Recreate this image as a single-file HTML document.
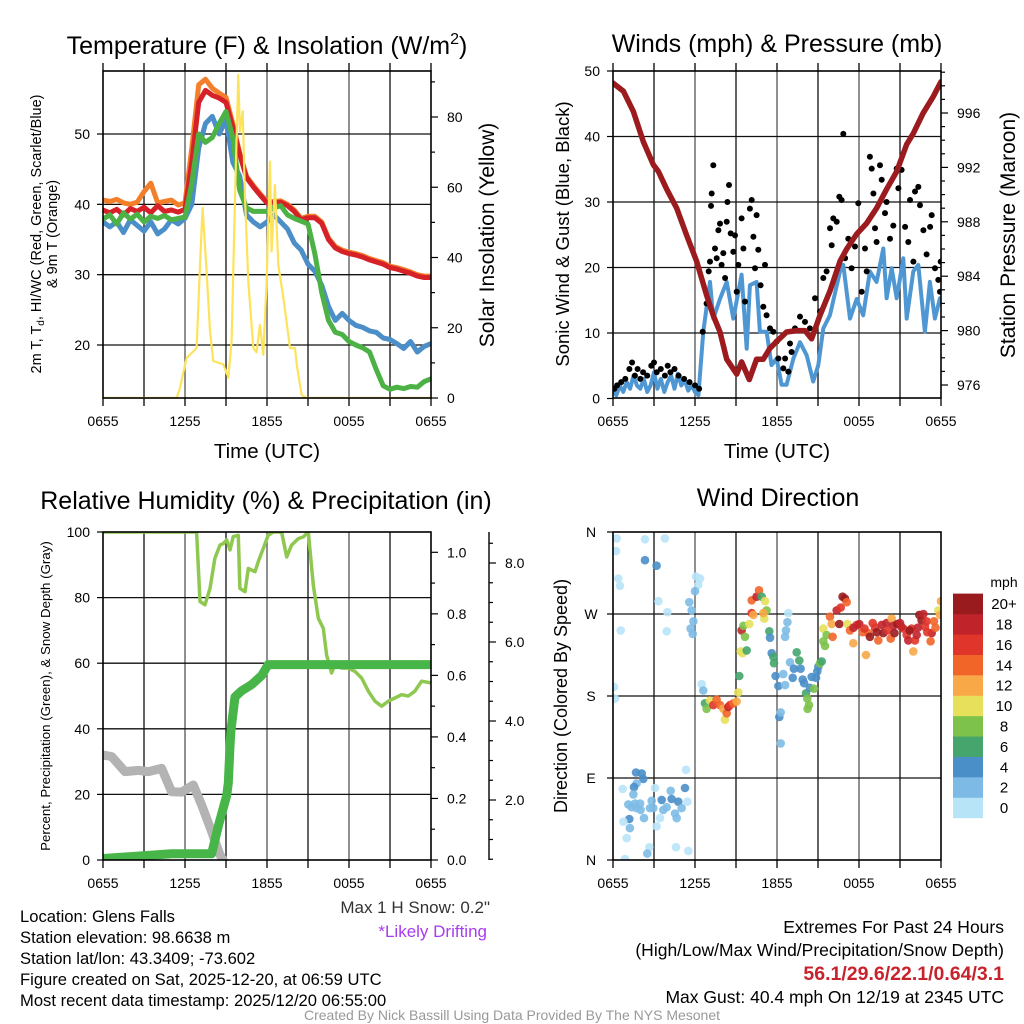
<!DOCTYPE html>
<html><head><meta charset="utf-8"><style>
body{margin:0;background:#fff}
svg{display:block;font-family:"Liberation Sans",Arial,sans-serif}
</style></head><body>
<svg id="fig" width="1024" height="1024" viewBox="0 0 1024 1024" xmlns="http://www.w3.org/2000/svg">
<defs>
<clipPath id="c1"><rect x="103" y="71" width="328" height="327"/></clipPath>
<clipPath id="c2"><rect x="613" y="71" width="328" height="327"/></clipPath>
<clipPath id="c3"><rect x="103" y="532" width="328" height="328"/></clipPath>
<clipPath id="c4"><rect x="613" y="532" width="328" height="328"/></clipPath>
</defs>
<g id="grid"></g>
<g id="series"></g>
<g id="axes"></g>
<!-- titles -->
<text x="267" y="54" font-size="25" text-anchor="middle">Temperature (F) &amp; Insolation (W/m<tspan dy="-10" font-size="16">2</tspan><tspan dy="10">)</tspan></text>
<text x="777" y="52" font-size="25" text-anchor="middle">Winds (mph) &amp; Pressure (mb)</text>
<text x="266" y="509" font-size="25" text-anchor="middle">Relative Humidity (%) &amp; Precipitation (in)</text>
<text x="778" y="506" font-size="25" text-anchor="middle">Wind Direction</text>
<!-- axis titles -->
<text x="267" y="458" font-size="20.5" text-anchor="middle">Time (UTC)</text>
<text x="777" y="458" font-size="20.5" text-anchor="middle">Time (UTC)</text>
<text transform="translate(41,234) rotate(-90)" font-size="14.5" text-anchor="middle">2m T, T<tspan dy="3" font-size="10">d</tspan><tspan dy="-3">, HI/WC (Red, Green, Scarlet/Blue)</tspan></text>
<text transform="translate(57,234) rotate(-90)" font-size="14.5" text-anchor="middle">&amp; 9m T (Orange)</text>
<text transform="translate(494,235) rotate(-90)" font-size="21" text-anchor="middle">Solar Insolation (Yellow)</text>
<text transform="translate(569,234) rotate(-90)" font-size="18.5" text-anchor="middle">Sonic Wind &amp; Gust (Blue, Black)</text>
<text transform="translate(1015,235) rotate(-90)" font-size="21" text-anchor="middle">Station Pressure (Maroon)</text>
<text transform="translate(50,696) rotate(-90)" font-size="13.3" text-anchor="middle">Percent, Precipitation (Green), &amp; Snow Depth (Gray)</text>
<text transform="translate(567,696) rotate(-90)" font-size="18" text-anchor="middle">Direction (Colored By Speed)</text>
<!-- colorbar label -->
<text x="1004" y="587" font-size="14" text-anchor="middle">mph</text>
<g id="cbar"></g>
<!-- footer text -->
<g font-size="16.6">
<text x="20" y="922">Location: Glens Falls</text>
<text x="20" y="943">Station elevation: 98.6638 m</text>
<text x="20" y="964">Station lat/lon: 43.3409; -73.602</text>
<text x="20" y="985">Figure created on Sat, 2025-12-20, at 06:59 UTC</text>
<text x="20" y="1006">Most recent data timestamp: 2025/12/20 06:55:00</text>
</g>
<text x="490" y="913" font-size="17" fill="#333" text-anchor="end">Max 1 H Snow: 0.2"</text>
<text x="487" y="937" font-size="17" fill="#a83cf0" text-anchor="end">*Likely Drifting</text>
<g font-size="17.5" text-anchor="end">
<text x="1004" y="933">Extremes For Past 24 Hours</text>
<text x="1004" y="956">(High/Low/Max Wind/Precipitation/Snow Depth)</text>
<text x="1004" y="980" fill="#c8232c" font-weight="bold" font-size="19.5">56.1/29.6/22.1/0.64/3.1</text>
<text x="1004" y="1003">Max Gust: 40.4 mph On 12/19 at 2345 UTC</text>
</g>
<text x="512" y="1020" font-size="14" fill="#999" text-anchor="middle">Created By Nick Bassill Using Data Provided By The NYS Mesonet</text>
</svg>
<script>
// ---------- data ----------
const tempTimes = [0,0.5,1,1.5,2,2.5,3,3.5,4,4.5,5,5.5,6,6.5,7,7.5,8,8.5,9,9.5,10,10.5,11,11.5,12,12.5,13,13.5,14,14.5,15,15.5,16,16.5,17,17.5,18,18.5,19,19.5,20,20.5,21,21.5,22,22.5,23,23.5,24];
const tempRed = [39.2,38.8,39.3,38.5,39.4,39.0,39.6,38.8,39.8,39.0,39.2,38.9,39.3,46,54.5,56.2,55.5,55.1,54.5,51,47.1,43.8,42.5,41.3,40.2,40.2,40.3,39.8,39.0,37.8,38.1,38.1,37.3,35,33.8,33.3,33.0,32.8,32.5,32.1,31.8,31.5,31.0,30.8,30.5,30.2,29.8,29.6,29.6];
const tempOrange = [40.6,40.4,40.7,40.2,40.0,40.3,41.8,43.0,40.2,40.4,40.6,39.9,40.2,48,57,57.8,56.5,55.8,55.2,51.5,47.3,44.0,42.7,41.5,40.4,40.4,40.5,40.0,39.2,38.0,38.3,38.3,37.5,35.2,34.0,33.5,33.2,33.0,32.7,32.3,32.0,31.7,31.2,31.0,30.7,30.4,30.0,29.8,29.8];
const tempGreen = [37.9,38.5,37.2,38.8,37.9,38.6,37.5,38.3,38.0,38.4,37.8,38.0,38.2,43,50,48.8,49.5,51.5,53.2,49.5,42,39.5,39.0,39.0,39.0,39.5,39.8,38.5,38.0,37.6,37.2,33,27.5,23.5,21.8,21.5,20.5,20.0,19.6,19.0,16.5,14.2,13.7,14.0,13.8,14.1,14.0,14.8,15.2];
const tempBlue = [37.5,36.8,37.5,36.0,37.8,37.0,36.2,37.5,35.8,36.5,37.8,37.2,38.0,40,48,51.5,52.5,50.0,52.0,46,44,38.5,37.5,36.8,37.5,38.5,37.5,36.5,34.5,33.5,31.5,30.5,28.5,25.5,23.5,24.5,23.5,22.8,22.5,22.0,21.8,21.0,20.8,20.2,19.5,20.5,19.0,19.8,20.2];
const insolTimes = [0,5.39,5.63,6.12,6.85,7.1,7.29,7.58,7.83,8.07,8.8,9.17,9.41,9.66,9.9,10.02,10.22,10.39,10.63,11.0,11.24,11.48,11.73,11.97,12.22,12.34,12.58,12.83,13.2,13.68,14.05,14.17,14.53,14.9,24];
const insolVals = [0,0,2.8,11.4,14.2,37.9,54.1,36,19,10.5,9.6,5.8,16.2,56.9,92,75.9,81.6,56.9,33.2,14.2,13,20.8,12.3,33,67.3,41.7,60.6,37.9,28.5,14.2,14.2,9.6,0.9,0,0];

const presTimes = [0,0.76,1.49,2.22,2.95,3.32,3.93,4.66,5.39,6.12,6.85,7.34,7.83,8.32,9.05,9.41,9.97,10.51,11.0,11.48,11.97,12.7,13.44,14.05,14.53,15.14,15.87,16.61,17.1,17.83,18.56,19.29,20.02,20.76,21.49,21.97,22.7,23.43,24];
const presVals = [998.2,997.6,996.1,993.9,992.2,991.7,990.4,989.0,987.0,985.1,982.6,981.1,979.9,977.9,976.8,977.7,976.4,977.9,977.9,978.7,979.2,979.9,980.0,980.0,979.4,981.1,982.9,985.1,986.0,987.1,987.9,989.0,990.4,991.7,993.7,994.5,996.0,997.2,998.3];
const windTimes = [0,0.25,0.5,0.75,1,1.25,1.5,1.75,2,2.25,2.5,2.75,3,3.25,3.5,3.75,4,4.25,4.5,4.75,5,5.25,5.5,5.75,6,6.25,6.61,7.1,7.34,7.83,8.32,8.8,9.41,9.78,10.02,10.51,10.75,11.24,11.6,11.97,12.34,12.7,13.2,13.68,14.17,14.65,15.02,15.39,15.87,16.61,16.85,17.34,17.83,18.31,18.8,19.29,19.78,20.02,20.39,20.76,21.24,21.49,21.97,22.34,22.82,23.19,23.55,23.92];
const windVals = [1.0,0.5,2.0,1.0,2.5,1.5,3.5,2.0,1.5,3.0,1.0,2.0,4.0,1.5,3.0,1.0,2.5,3.5,1.5,3.8,2.0,2.8,1.2,2.0,1.0,0.5,10.2,17.8,12.2,15.2,17.8,12.2,18.9,7.6,17.3,17.8,10.2,10.2,5.1,6.1,2.1,2.1,6.1,8.6,6.6,2.6,5.1,10.7,12.7,19.4,20.4,12.2,15.2,12.7,19.4,17.8,22.9,15.3,19.9,15.3,21.4,12.2,19.4,20.4,10.2,17.8,12.2,15.3];
const gustTimes = [0.1,0.3,0.6,0.9,1.2,1.4,1.6,1.8,2.0,2.2,2.5,2.8,3.0,3.2,3.5,3.8,4.0,4.2,4.5,4.8,5.2,5.6,6.0,6.3,6.56,6.85,7.0,7.1,7.17,7.22,7.34,7.46,7.59,7.71,7.83,7.95,8.07,8.2,8.32,8.37,8.49,8.61,8.8,8.93,9.05,9.17,9.41,9.54,9.66,10.02,10.15,10.27,10.39,10.51,10.63,10.8,11.0,11.12,11.24,11.49,11.73,11.98,12.1,12.46,12.59,12.83,12.95,13.07,13.32,13.68,14.05,14.41,14.78,15.15,15.39,15.63,15.88,16.0,16.12,16.37,16.56,16.73,16.85,16.98,17.22,17.46,17.71,17.95,18.2,18.44,18.56,18.8,18.93,19.05,19.17,19.29,19.54,19.66,19.9,20.02,20.27,20.51,20.76,20.88,21.12,21.37,21.61,21.73,21.98,22.1,22.34,22.46,22.71,22.95,23.2,23.32,23.56,23.8,23.93,23.98];
const gustVals = [1.5,2,2.5,3,4.5,5.5,3.5,4.5,3,4,3.5,5,5.5,4,4.5,3.5,5,4,4.5,3.5,3,2.5,2,1.5,10.2,14.5,19.4,20.9,29.4,31.3,35.6,22.9,21.4,25.7,26.7,20.4,22.2,18.4,27,30,32.6,25.2,22.4,24.9,16.3,20.4,27.5,22.9,14.8,29,30.3,24.7,19.9,28,22.7,17.3,14,20.4,12.7,10.7,10.2,8.7,6.1,4.6,6.1,4.1,8.4,7.1,10.7,12.5,11.7,10.7,15.3,13.3,18.4,19.4,26,23.4,27.5,27,30.8,30.3,40.4,21.4,24.4,19.9,23.2,29.8,16.3,22.9,19.4,36.9,35.1,31.3,26,23.9,35.6,33.4,28.3,30,24.4,26.4,35.1,32.1,34.9,26.2,23.9,30.3,20.9,31.6,32.3,29.5,25.7,22,26.2,28,19.9,18.1,16.3,20.9];

const rhTimes = [0,6.61,6.85,7.1,7.46,7.83,8.19,8.56,8.8,9.05,9.29,9.53,9.9,10.02,10.39,10.63,11.12,11.36,11.73,12.09,12.46,13.07,13.44,13.8,14.29,14.66,15.02,15.39,15.75,16.12,16.36,16.73,16.97,17.46,17.95,18.43,18.92,19.41,19.9,20.39,20.87,21.36,21.85,22.34,22.82,23.31,24];
const rhVals = [100,100,100,78.8,77.8,82.8,92,96,96.5,97.6,94.5,98.6,99,82.8,81.8,88.9,87.9,91,95,99,100,100,92.4,96,98,98.5,100,83.8,73.7,70.6,62.5,57,59.5,58.5,58.5,57.5,55.5,51.5,48.4,46.9,48.4,49.4,50.4,50,51.5,54.5,54];
const pcpTimes = [0,5.02,7.95,8.44,9.05,9.17,9.29,9.36,9.66,10.14,10.88,11.61,12.09,24];
const pcpVals = [0.005,0.02,0.02,0.11,0.21,0.25,0.37,0.42,0.53,0.55,0.57,0.6,0.635,0.635];
const snowTimes = [0,0.63,1.61,2.58,3.32,4.29,5.02,5.75,6.61,7.22,7.95,8.56,8.93];
const snowVals = [3.14,3.1,2.72,2.75,2.72,2.8,2.21,2.2,2.38,1.87,1.2,0.61,0.4];

const dirTimes = [0.27,2.34,3.80,0.22,2.34,3.19,0.39,0.51,3.32,3.98,0.56,3.93,6.07,6.37,6.24,6.0,5.58,5.76,5.88,5.68,5.83,0.07,0.15,
1.68,2.1,2.22,1.73,1.54,0.71,1.49,1.12,1.37,1.73,1.98,2.02,2.83,3.07,2.95,3.56,3.68,4.22,4.29,4.78,5.02,5.27,5.34,5.44,4.54,4.66,3.44,3.19,2.27,1.19,0.76,1.24,1.0,2.66,2.51,4.61,5.51,0.88,3.93,2.71,1.61,
6.49,6.61,6.73,6.85,7.1,7.34,7.58,7.83,8.07,8.19,8.32,8.44,8.56,8.8,9.05,9.17,9.24,9.34,9.49,9.41,9.66,9.54,9.78,9.97,10.15,10.27,10.15,10.51,10.68,10.88,11.12,11.24,11.07,11.0,11.44,11.49,11.61,11.73,11.78,11.9,12.1,12.17,12.27,12.27,12.46,12.59,12.83,12.76,12.66,12.59,12.95,13.15,13.24,13.44,13.63,13.73,13.88,13.98,14.12,14.22,14.34,14.24,14.41,14.54,14.71,14.85,14.95,15.02,15.15,15.27,15.39,15.51,15.39,15.63,15.88,16.0,16.07,16.37,16.66,16.8,16.97,17.1,16.56,17.15,17.34,17.58,17.83,18.02,18.27,18.51,18.68,18.8,19.0,19.17,19.41,19.66,19.78,20.02,20.39,20.32,20.51,20.8,21.0,21.24,21.49,21.61,21.85,21.97,22.1,22.22,22.41,22.58,22.71,22.83,22.95,23.24,23.32,23.49,23.8,23.93,24.0,
17.6,18.4,19.3,20.1,20.6,21.1,21.7,22.3,23.0,23.6];
const dirVals = [353,352,353,339,329,323,309,301,284,272,252,251,311,309,302,295,283,274,262,254,248,190,177,
96,95,89,84,80,78,72,61,58,57,62,55,65,79,57,66,55,76,67,64,57,79,99,64,51,46,46,37,46,45,42,35,24,14,7,14,10,1,58,57,62,
193,186,172,166,175,170,176,170,166,154,161,168,170,172,174,184,202,229,227,252,245,257,230,259,271,269,285,289,296,289,284,274,265,271,251,244,227,223,216,202,191,157,162,128,204,192,271,261,252,245,217,200,210,228,219,210,198,194,183,177,170,166,189,201,188,200,207,212,216,218,240,235,254,247,267,259,245,274,277,289,287,283,259,259,252,238,258,259,250,225,249,245,260,255,241,258,249,260,265,243,257,259,260,254,247,241,254,229,241,247,269,263,270,256,262,240,249,262,274,269,284,
255,254,250,252,249,256,252,255,250,255];
const dirSpeeds = [0,0,0,0,4,4,0,0,0,0,0,0,0,0,0,2,2,2,2,2,2,0,0,
4,4,4,2,4,0,2,2,2,2,2,2,2,0,2,4,2,2,4,4,2,4,0,0,2,2,0,0,2,4,0,2,0,0,2,0,0,0,2,2,2,
0,2,6,8,10,16,14,14,12,10,14,18,16,14,12,10,6,10,10,18,8,8,6,10,16,12,14,18,14,6,10,8,10,12,6,4,4,6,6,4,4,4,2,2,2,2,0,2,2,2,2,4,4,6,6,4,4,4,6,8,8,8,4,4,8,4,4,4,8,6,8,8,10,8,14,12,14,18,16,20,20,14,20,10,14,12,16,18,14,12,14,20,16,16,14,18,20,18,12,14,18,20,18,16,16,18,16,12,16,18,20,20,18,16,16,14,18,14,10,12,12,
18,16,20,16,20,18,20,18,16,14];

const cbarLabels = ["0","2","4","6","8","10","12","14","16","18","20+"];
const cbarColors = ["#b8e4f8","#7dbbe6","#4a8fc8","#45a56d","#7cc24b","#e6e05a","#f8a847","#f26529","#e0352a","#c1232b","#9a1b1e"];
const xTickLabels = ["0655","1255","1855","0055","0655"];
const tempTicks = [20,30,40,50];
const insolTicks = [0,20,40,60,80];
const windTicks = [0,10,20,30,40,50];
const presTicks = [976,980,984,988,992,996];
const rhTicks = [0,20,40,60,80,100];
const pcpTicks = [0,0.2,0.4,0.6,0.8,1.0];
const snowTicks = [2,4,6,8];
const dirTicks = [0,90,180,270,360];
const dirTickLabels = ["N","E","S","W","N"];

// ---------- scales ----------
const NS = "http://www.w3.org/2000/svg";
const P1={x0:103,x1:431,y0:71,y1:398}, P2={x0:613,x1:941,y0:71,y1:398}, P3={x0:103,x1:431,y0:532,y1:860}, P4={x0:613,x1:941,y0:532,y1:860};
const xT = (p,t)=> p.x0 + t/24*(p.x1-p.x0);
const yTemp = v=> 345-(v-20)*7.033;
const yIns = v=> 398-v*3.5125;
const yWind = v=> 398.5-v*6.55;
const yPres = v=> 385-(v-976)*13.6;
const yRH = v=> 860-v*3.28;
const yPcp = v=> 860-v*307.7;
const ySnow = v=> 879-v*39.5;
const yDir = v=> 860-v/360*328;

function el(tag, attrs, parent){const e=document.createElementNS(NS,tag);for(const k in attrs)e.setAttribute(k,attrs[k]);parent.appendChild(e);return e;}
const G=document.getElementById('grid'), S=document.getElementById('series'), A=document.getElementById('axes'), CB=document.getElementById('cbar');

function line(x1,y1,x2,y2,stroke,w,parent,name){const e=el('line',{x1:x1,y1:y1,x2:x2,y2:y2,stroke:stroke,'stroke-width':w},parent);


return e;}
function text(x,y,s,anchor,size,parent,name){const e=el('text',{x:x,y:y,'text-anchor':anchor,'font-size':size},parent);e.textContent=s;


return e;}

function panelFrame(p,hVals,yf,key){
  for(let h=3;h<24;h+=3){line(xT(p,h),p.y0,xT(p,h),p.y1,(h%6==0)?'#555':'#111',1.3,G,key+'-vgrid');}
  hVals.forEach(v=>line(p.x0,yf(v),p.x1,yf(v),'#111',1.3,G,key+'-hgrid'));
  for(let h=0;h<=24;h+=3){line(xT(p,h),p.y1,xT(p,h),p.y1+8,'#000',1.3,A,key+'-xtick');}
  xTickLabels.forEach((s,i)=>text(xT(p,i*6),p.y1+28,s,'middle',14,A,key+'-xtick-label'));
  const r=el('rect',{x:p.x0,y:p.y0,width:p.x1-p.x0,height:p.y1-p.y0,fill:'none',stroke:'#000','stroke-width':1.6},A);
  
  
}
function topTicks(p,key){for(let h=0;h<=24;h+=3){line(xT(p,h),p.y0-8,xT(p,h),p.y0,'#000',1.3,A,key+'-top-tick');}}
function path(ts,vs,p,yf,color,w,clip,name){
  const d=ts.map((t,i)=>(i?'L':'M')+xT(p,t).toFixed(1)+','+yf(vs[i]).toFixed(1)).join('');
  const e=el('path',{d:d,fill:'none',stroke:color,'stroke-width':w,'stroke-linejoin':'round','stroke-linecap':'round','clip-path':'url(#'+clip+')'},S);
  
  
  return e;
}

// ---------- panel 1 ----------
panelFrame(P1,[20,30,40,50],yTemp,'temp');
topTicks(P1,'temp');
tempTicks.forEach(v=>{line(P1.x0-6,yTemp(v),P1.x0,yTemp(v),'#000',1.2,A,'temp-ytick');text(P1.x0-13,yTemp(v)+5,String(v),'end',14,A,'temp-ytick-label');});
for(let v=0;v<=90;v+=10){line(P1.x1,yIns(v),P1.x1+(v%20==0?7:4),yIns(v),'#000',1.2,A,'insolation-ytick');}
insolTicks.forEach(v=>text(P1.x1+16,yIns(v)+5,String(v),'start',14,A,'insolation-ytick-label'));
path(tempTimes,tempOrange,P1,yTemp,'#f47f2a',5,'c1','orange-9m-temp-line');
path(tempTimes,tempRed,P1,yTemp,'#d62128',5,'c1','red-2m-temp-line');
path(tempTimes,tempBlue,P1,yTemp,'#4b8ec8',5,'c1','blue-windchill-line');
path(tempTimes,tempGreen,P1,yTemp,'#4cb245',5,'c1','green-dewpoint-line');
path(insolTimes,insolVals,P1,yIns,'#fde35c',2.2,'c1','yellow-insolation-line');

// ---------- panel 2 ----------
panelFrame(P2,[10,20,30,40],yWind,'wind');
topTicks(P2,'wind');
windTicks.forEach(v=>{line(P2.x0-6,yWind(v),P2.x0,yWind(v),'#000',1.2,A,'wind-ytick');text(P2.x0-13,yWind(v)+5,String(v),'end',14,A,'wind-ytick-label');});
for(let v=976;v<=999;v++){line(P2.x1,yPres(v),P2.x1+(v%4==0?7:4),yPres(v),'#000',1.2,A,'pressure-ytick');}
presTicks.forEach(v=>text(P2.x1+16,yPres(v)+5,String(v),'start',14,A,'pressure-ytick-label'));
path(windTimes,windVals,P2,yWind,'#4f97d3',4,'c2','blue-sustained-wind-line');
gustTimes.forEach((t,i)=>{const c=el('circle',{cx:xT(P2,t).toFixed(1),cy:yWind(gustVals[i]).toFixed(1),r:3,fill:'#000','clip-path':'url(#c2)'},S);

});
path(presTimes,presVals,P2,yPres,'#9b1b1e',5.5,'c2','maroon-pressure-line');

// ---------- panel 3 ----------
panelFrame(P3,[20,40,60,80],yRH,'rh');
rhTicks.forEach(v=>{line(P3.x0-6,yRH(v),P3.x0,yRH(v),'#000',1.2,A,'rh-ytick');text(P3.x0-13,yRH(v)+5,String(v),'end',14,A,'rh-ytick-label');});
for(let k=0;k<=10;k++){const v=k/10;line(P3.x1,yPcp(v),P3.x1+(k%2==0?7:4),yPcp(v),'#000',1.2,A,'precip-ytick');}
pcpTicks.forEach(v=>text(P3.x1+16,yPcp(v)+5,v.toFixed(1),'start',14,A,'precip-ytick-label'));
line(489,532,489,860,'#000',1.4,A,'snow-axis-line');
for(let k=1;k<=17;k++){const v=k/2;line(489,ySnow(v),489+(k%4==0?7:4),ySnow(v),'#000',1.2,A,'snow-ytick');}
snowTicks.forEach(v=>text(505,ySnow(v)+5,v.toFixed(1),'start',14,A,'snow-ytick-label'));
path(snowTimes,snowVals,P3,ySnow,'#b3b3b3',9,'c3','gray-snow-depth-line');
path(rhTimes,rhVals,P3,yRH,'#8fc851',3.5,'c3','light-green-rh-line');
path(pcpTimes,pcpVals,P3,yPcp,'#48b548',9,'c3','green-precip-line');

// ---------- panel 4 ----------
panelFrame(P4,[90,180,270],yDir,'dir');
dirTicks.forEach((v,i)=>{line(P4.x0-6,yDir(v),P4.x0,yDir(v),'#000',1.2,A,'dir-ytick');text(P4.x0-22,yDir(v)+5,dirTickLabels[i],'middle',14,A,'dir-ytick-label');});
dirTimes.forEach((t,i)=>{const ci=Math.min(10,Math.round(dirSpeeds[i]/2));
const c=el('circle',{cx:xT(P4,t).toFixed(1),cy:yDir(dirVals[i]).toFixed(1),r:4.3,fill:cbarColors[ci],'fill-opacity':0.9,'clip-path':'url(#c4)'},S);

});

// ---------- colorbar ----------
cbarLabels.forEach((s,i)=>{const y=818-(i+1)*20.4;
const r=el('rect',{x:953,y:y.toFixed(1),width:30,height:20.6,fill:cbarColors[i]},CB);


text(1004,y+15.5,s,'middle',15,CB,'colorbar-label');});
</script>
</body></html>
